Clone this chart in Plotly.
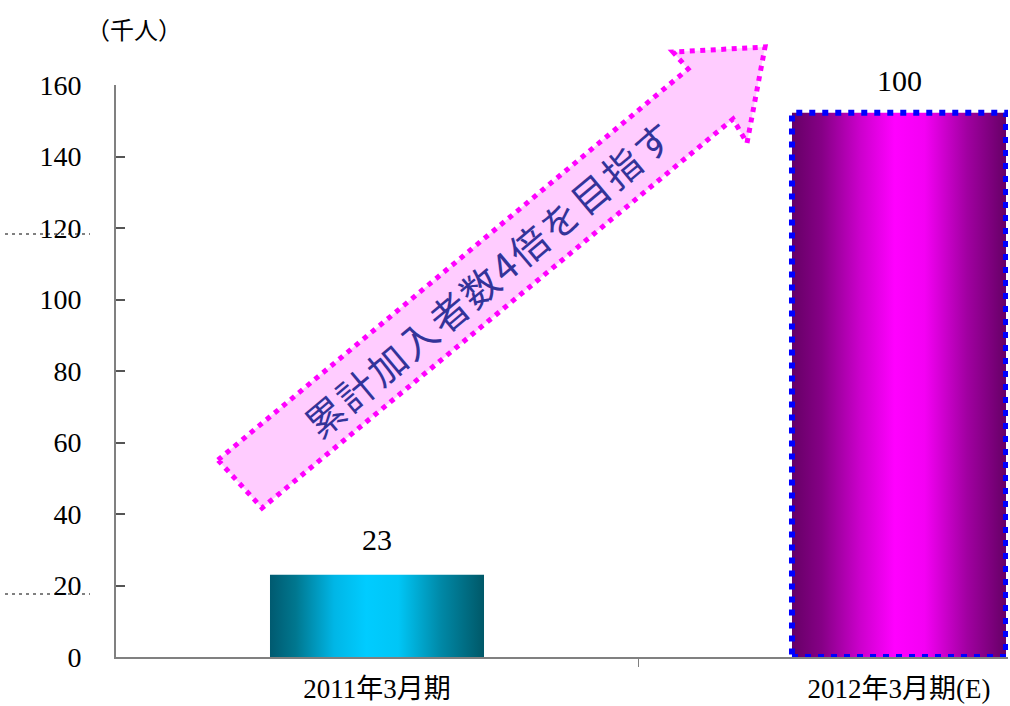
import plotly.graph_objects as go

# ---- data ----
categories = ["2011年3月期", "2012年3月期(E)"]
members = [23, 100]          # 累計加入者数（千人）
value_labels = ["23", "100"]
y_ticks = [0, 20, 40, 60, 80, 100, 120, 140, 160]
banner_text = "累計加入者数4倍を目指す"
unit_text = "（千人）"

# ---- styling ----
W, H = 1010, 706
ML, MR, MT, MB = 116, 2, 85, 49
BAR_W = 0.41
SERIF = "Liberation Serif, Times New Roman, Noto Sans CJK JP, serif"
CJK = "Noto Sans CJK JP, Noto Sans, sans-serif"

cyan_scale = [[0, "#005a70"], [0.12, "#00778f"], [0.3, "#00b6e6"], [0.45, "#00ccff"],
              [0.6, "#00c6f6"], [0.8, "#0088a6"], [1, "#005868"]]
magenta_scale = [[0, "#660066"], [0.14, "#860086"], [0.32, "#cc00cc"], [0.48, "#ff00ff"],
                 [0.62, "#f400f4"], [0.82, "#a000a0"], [1, "#660066"]]
bar_styles = [
    dict(scale=cyan_scale, yaxis="y", outline=None, label_gap=17),
    dict(scale=magenta_scale, yaxis="y2", outline="#0000ff", label_gap=14),
]
# second bar is plotted on its own (hidden) value scale
Y2_TOP = 105.1

PW = W - ML - MR
PH = H - MT - MB


def to_paper(px, py):
    return (px - ML) / PW, (H - MB - py) / PH


fig = go.Figure()

for i, (v, st) in enumerate(zip(members, bar_styles)):
    x0, x1 = i - BAR_W / 2, i + BAR_W / 2
    fig.add_trace(go.Scatter(
        x=[x0, x1, x1, x0, x0], y=[0, 0, v, v, 0],
        mode="lines", fill="toself", line=dict(width=0),
        fillgradient=dict(type="horizontal", colorscale=st["scale"]),
        yaxis=st["yaxis"], hoverinfo="skip", showlegend=False,
    ))
    if st["outline"]:
        fig.add_trace(go.Scatter(
            x=[x0, x1, x1, x0, x0], y=[0, 0, v, v, 0],
            mode="lines", line=dict(color=st["outline"], width=6, dash="6px,7px"),
            yaxis=st["yaxis"], hoverinfo="skip", showlegend=False,
        ))
    fig.add_annotation(
        x=i, y=v, xref="x", yref=st["yaxis"], text=value_labels[i],
        showarrow=False, xanchor="center", yanchor="bottom", yshift=st["label_gap"],
        font=dict(family=SERIF, size=30, color="#000000"),
    )

# rising arrow banner
arrow_px = [(218, 460), (688, 69), (673, 52), (765, 47), (747, 143), (733, 119), (262, 508)]
pts = [to_paper(*p) for p in arrow_px]
path = "M " + " L ".join(f"{x:.4f},{y:.4f}" for x, y in pts) + " Z"
fig.add_shape(type="path", path=path, xref="paper", yref="paper",
              fillcolor="#ffccff", line=dict(color="#ff00ff", width=5, dash="5px,5.5px"))

tx, ty = to_paper(487, 278)
fig.add_annotation(
    x=tx, y=ty, xref="paper", yref="paper", showarrow=False,
    text="\u200a".join(banner_text), textangle=-40,
    xanchor="center", yanchor="middle",
    font=dict(family=CJK, size=38, color="#333399"),
)

# unit label
ux, uy = to_paper(134, 28)
fig.add_annotation(x=ux, y=uy, xref="paper", yref="paper", showarrow=False,
                   xanchor="center", yanchor="middle",
                   text=unit_text, font=dict(family=CJK, size=24, color="#000000"))

# faint dotted guide stubs at the left edge
for py in (234, 594):
    xa, ya = to_paper(5, py)
    xb, _ = to_paper(90, py)
    fig.add_shape(type="line", xref="paper", yref="paper", x0=xa, x1=xb, y0=ya, y1=ya,
                  line=dict(color="#000000", width=1, dash="3px,4px"))

x_right = -0.5 + PW / 522.0
fig.update_layout(
    width=W, height=H,
    margin=dict(l=ML, r=MR, t=MT, b=MB, pad=0, autoexpand=False),
    paper_bgcolor="#ffffff", plot_bgcolor="#ffffff",
    showlegend=False,
    xaxis=dict(
        range=[-0.5, x_right], tickvals=[0, 1], ticktext=categories,
        showgrid=False, zeroline=False, ticks="", automargin=False,
        showline=True, linecolor="#808080", linewidth=2,
        tickfont=dict(family=SERIF, size=27, color="#000000"),
        ticklabelstandoff=7,
        minor=dict(tickmode="array", tickvals=[0.5], ticks="outside", ticklen=8,
                   tickcolor="#808080", tickwidth=1),
    ),
    yaxis=dict(
        range=[0, 160], tickvals=y_ticks, automargin=False,
        showgrid=False, zeroline=False,
        showline=True, linecolor="#808080", linewidth=2,
        ticks="inside", ticklen=9, tickwidth=2, tickcolor="#555555",
        tickfont=dict(family=SERIF, size=28, color="#000000"),
        ticklabelstandoff=27,
    ),
    yaxis2=dict(range=[0, Y2_TOP], overlaying="y", visible=False),
)

fig.write_html("out.html")
